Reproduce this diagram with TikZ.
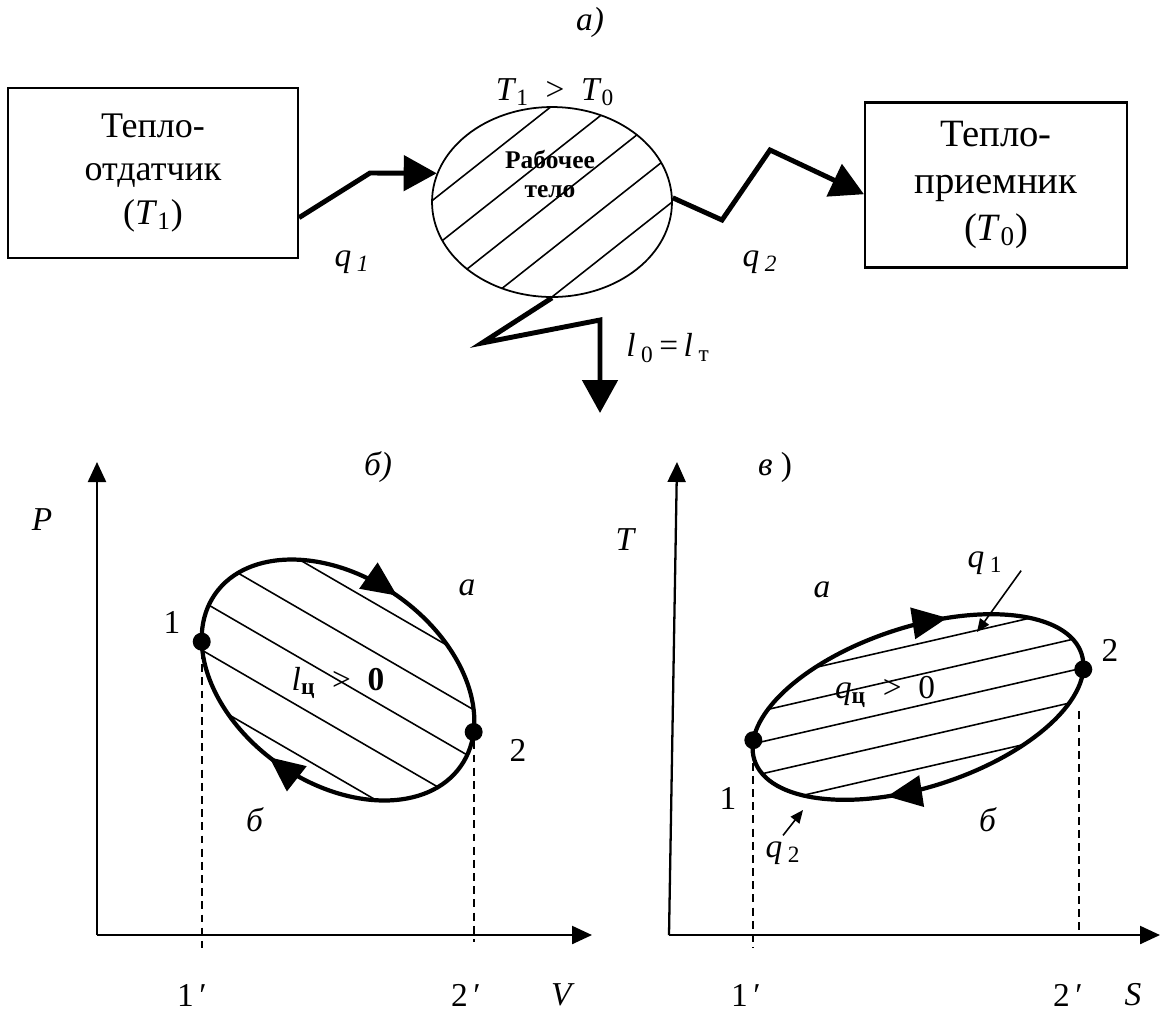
\documentclass[tikz,border=0pt]{standalone}
\usepackage{fontspec}
\setmainfont{Liberation Serif}
\usetikzlibrary{arrows.meta,shapes.geometric,decorations.markings}

\begin{document}
\begin{tikzpicture}[
    x=0.02cm, y=0.02cm,
    every node/.style={font=\fontsize{19}{23}\selectfont},
    box/.style={rectangle, draw, line width=1.2pt, align=center, inner sep=0pt, font=\fontsize{20.5}{24.7}\selectfont},
    bodyshape/.style={ellipse, draw, line width=1pt, minimum width=4.8cm, minimum height=3.8cm, inner sep=0pt},
    flow/.style={line width=2.8pt, -{Triangle[length=0.66cm, width=0.7cm]}},
    hatch/.style={line width=0.9pt},
    axisline/.style={line width=1.3pt, -{Triangle[length=0.4cm, width=0.36cm]}},
    loopline/.style={line width=2.4pt},
    proj/.style={line width=1pt, dash pattern=on 4.5pt off 3pt},
    dot/.style={circle, fill, inner sep=0pt, minimum size=0.36cm},
    pointer/.style={line width=0.9pt, -{Triangle[length=0.26cm, width=0.22cm]}},
    arrowmarks/.style 2 args={postaction={decorate, decoration={markings,
        mark=at position #1 with {\arrowreversed{Triangle[length=0.7cm, width=0.62cm]}},
        mark=at position #2 with {\arrowreversed{Triangle[length=0.7cm, width=0.62cm]}}}}},
]
\useasboundingbox (0,0) rectangle (1162,-1019);

% a) heat engine scheme
\begin{scope}
  \clip (552,-202) ellipse [x radius=2.4cm, y radius=1.9cm];
  \foreach \k in {542,590,638,685,733}
    \draw[hatch] (420,{331.8-\k}) -- (690,{545.1-\k});
\end{scope}

\node (parta) at (590,-22) {\textit{а)}};
\node[box, minimum width=5.8cm, minimum height=3.4cm] (source) at (153,-173) {Тепло-\\отдатчик\\(\textit{T}\textsubscript{1})};
\node[box, minimum width=5.24cm, minimum height=3.3cm, font=\fontsize{22}{26.5}\selectfont] (sink) at (996,-185) {Тепло-\\приемник\\(\textit{T}\textsubscript{0})};
\node[bodyshape] (body) at (552,-202) {};
\node[font=\bfseries\fontsize{14.5}{17}\selectfont, align=center] (bodytext) at (550,-174) {Рабочее\\тело};
\node (ineq) at (555,-92) {\textit{T}\textsubscript{1}\enspace>\enspace\textit{T}\textsubscript{0}};
\coordinate (work) at (600,-413);

\draw[flow] (source.-17) -- (370,-173) -- (body.166);
\draw[flow] (body.2) -- (722,-220) -- (770,-150) -- (sink.184);
\draw[flow] (body.south) -- (482,-343) -- (600,-320) -- (work);

\node (qin) at (352,-262) {\textit{q}\,\textsubscript{\textit{1}}};
\node (qout) at (760,-262) {\textit{q}\,\textsubscript{\textit{2}}};
\node (lwork) at (668,-348) {\textit{l}\,\textsubscript{0}\,=\,\textit{l}\,\textsubscript{т}};

% b) p-v diagram
\coordinate (pvO) at (97,-935);
\draw[axisline] (pvO) -- (97,-462);
\draw[axisline] (pvO) -- (592,-935);

\begin{scope}
  \clip[shift={(338,-680)}, rotate=-35] (0,0) ellipse [x radius=3cm, y radius=2.06cm];
  \foreach \k in {386,435,484,533,582}
    \draw[hatch] (180,{-(\k+104.4)}) -- (500,{-(\k+290)});
\end{scope}
\begin{scope}[shift={(338,-680)}, rotate=-35]
  \draw[loopline, arrowmarks={0.25}{0.735}] (0,0) ellipse [x radius=3cm, y radius=2.06cm];
  \coordinate (pv1) at (207:3cm and 2.06cm);
  \coordinate (pv2) at (20:3cm and 2.06cm);
\end{scope}

\node[dot] (pvdot1) at (pv1) {};
\node[dot] (pvdot2) at (pv2) {};
\draw[proj] (pvdot1) -- (pv1 |- 0,-948);
\draw[proj] (pvdot2) -- (pv2 |- 0,-942);

\node (partb) at (378,-467) {\textit{б)}};
\node (pvP) at (42,-520) {\textit{P}};
\node (pvV) at (563,-995) {\textit{V}};
\node (pva) at (467,-588) {\textit{а}};
\node (pvb) at (255,-820) {\textit{б}};
\node (pvone) at (172,-622) {1};
\node (pvtwo) at (518,-750) {2};
\node (pvonep) at (192,-995) {1\,′};
\node (pvtwop) at (466,-995) {2\,′};
\node (pvwork) at (338,-683) {\textit{l}\textsubscript{\textbf{ц}}\enspace>\enspace\textbf{0}};

% c) T-s diagram
\coordinate (tsO) at (669,-935);
\draw[axisline] (tsO) -- (677,-462);
\draw[axisline] (tsO) -- (1160,-935);

\begin{scope}
  \clip[shift={(918,-707)}, rotate=18] (0,0) ellipse [x radius=3.44cm, y radius=1.6cm];
  \foreach \k in {855,886,917,949,980}
    \draw[hatch] (730,{167.9-\k}) -- (1100,{253-\k});
\end{scope}
\begin{scope}[shift={(918,-707)}, rotate=18]
  \draw[loopline, arrowmarks={0.182}{0.68}] (0,0) ellipse [x radius=3.44cm, y radius=1.6cm];
  \coordinate (ts1) at (166:3.44cm and 1.6cm);
  \coordinate (ts2) at (-11:3.44cm and 1.6cm);
\end{scope}

\node[dot] (tsdot1) at (ts1) {};
\node[dot] (tsdot2) at (ts2) {};
\draw[proj] (tsdot1) -- (ts1 |- 0,-948);
\draw[proj] ([xshift=-0.08cm, yshift=-0.84cm]ts2) -- ([xshift=-0.08cm]ts2 |- tsO);

\node (partc) at (775,-467) {\textit{в} )};
\node (tsT) at (626,-540) {\textit{T}};
\node (tsS) at (1133,-995) {\textit{S}};
\node (tsa) at (822,-590) {\textit{а}};
\node (tsb) at (988,-820) {\textit{б}};
\node (tsone) at (728,-798) {1};
\node (tstwo) at (1110,-650) {2};
\node (tsonep) at (746,-995) {1\,′};
\node (tstwop) at (1068,-995) {2\,′};
\node (tswork) at (885,-692) {\textit{q}\textsubscript{\textbf{ц}}\enspace>\enspace0};

\node (tsqin) at (985,-563) {\textit{q}\,\textsubscript{1}};
\node (tsqout) at (783,-853) {\textit{q}\,\textsubscript{2}};
\coordinate (qtipin) at (977,-632);
\coordinate (qtipout) at (803,-810);
\draw[pointer] ([shift={(0.25cm,0.2cm)}]tsqin.south east) -- (qtipin);
\draw[pointer] (tsqout.north) -- (qtipout);

\end{tikzpicture}
\end{document}
